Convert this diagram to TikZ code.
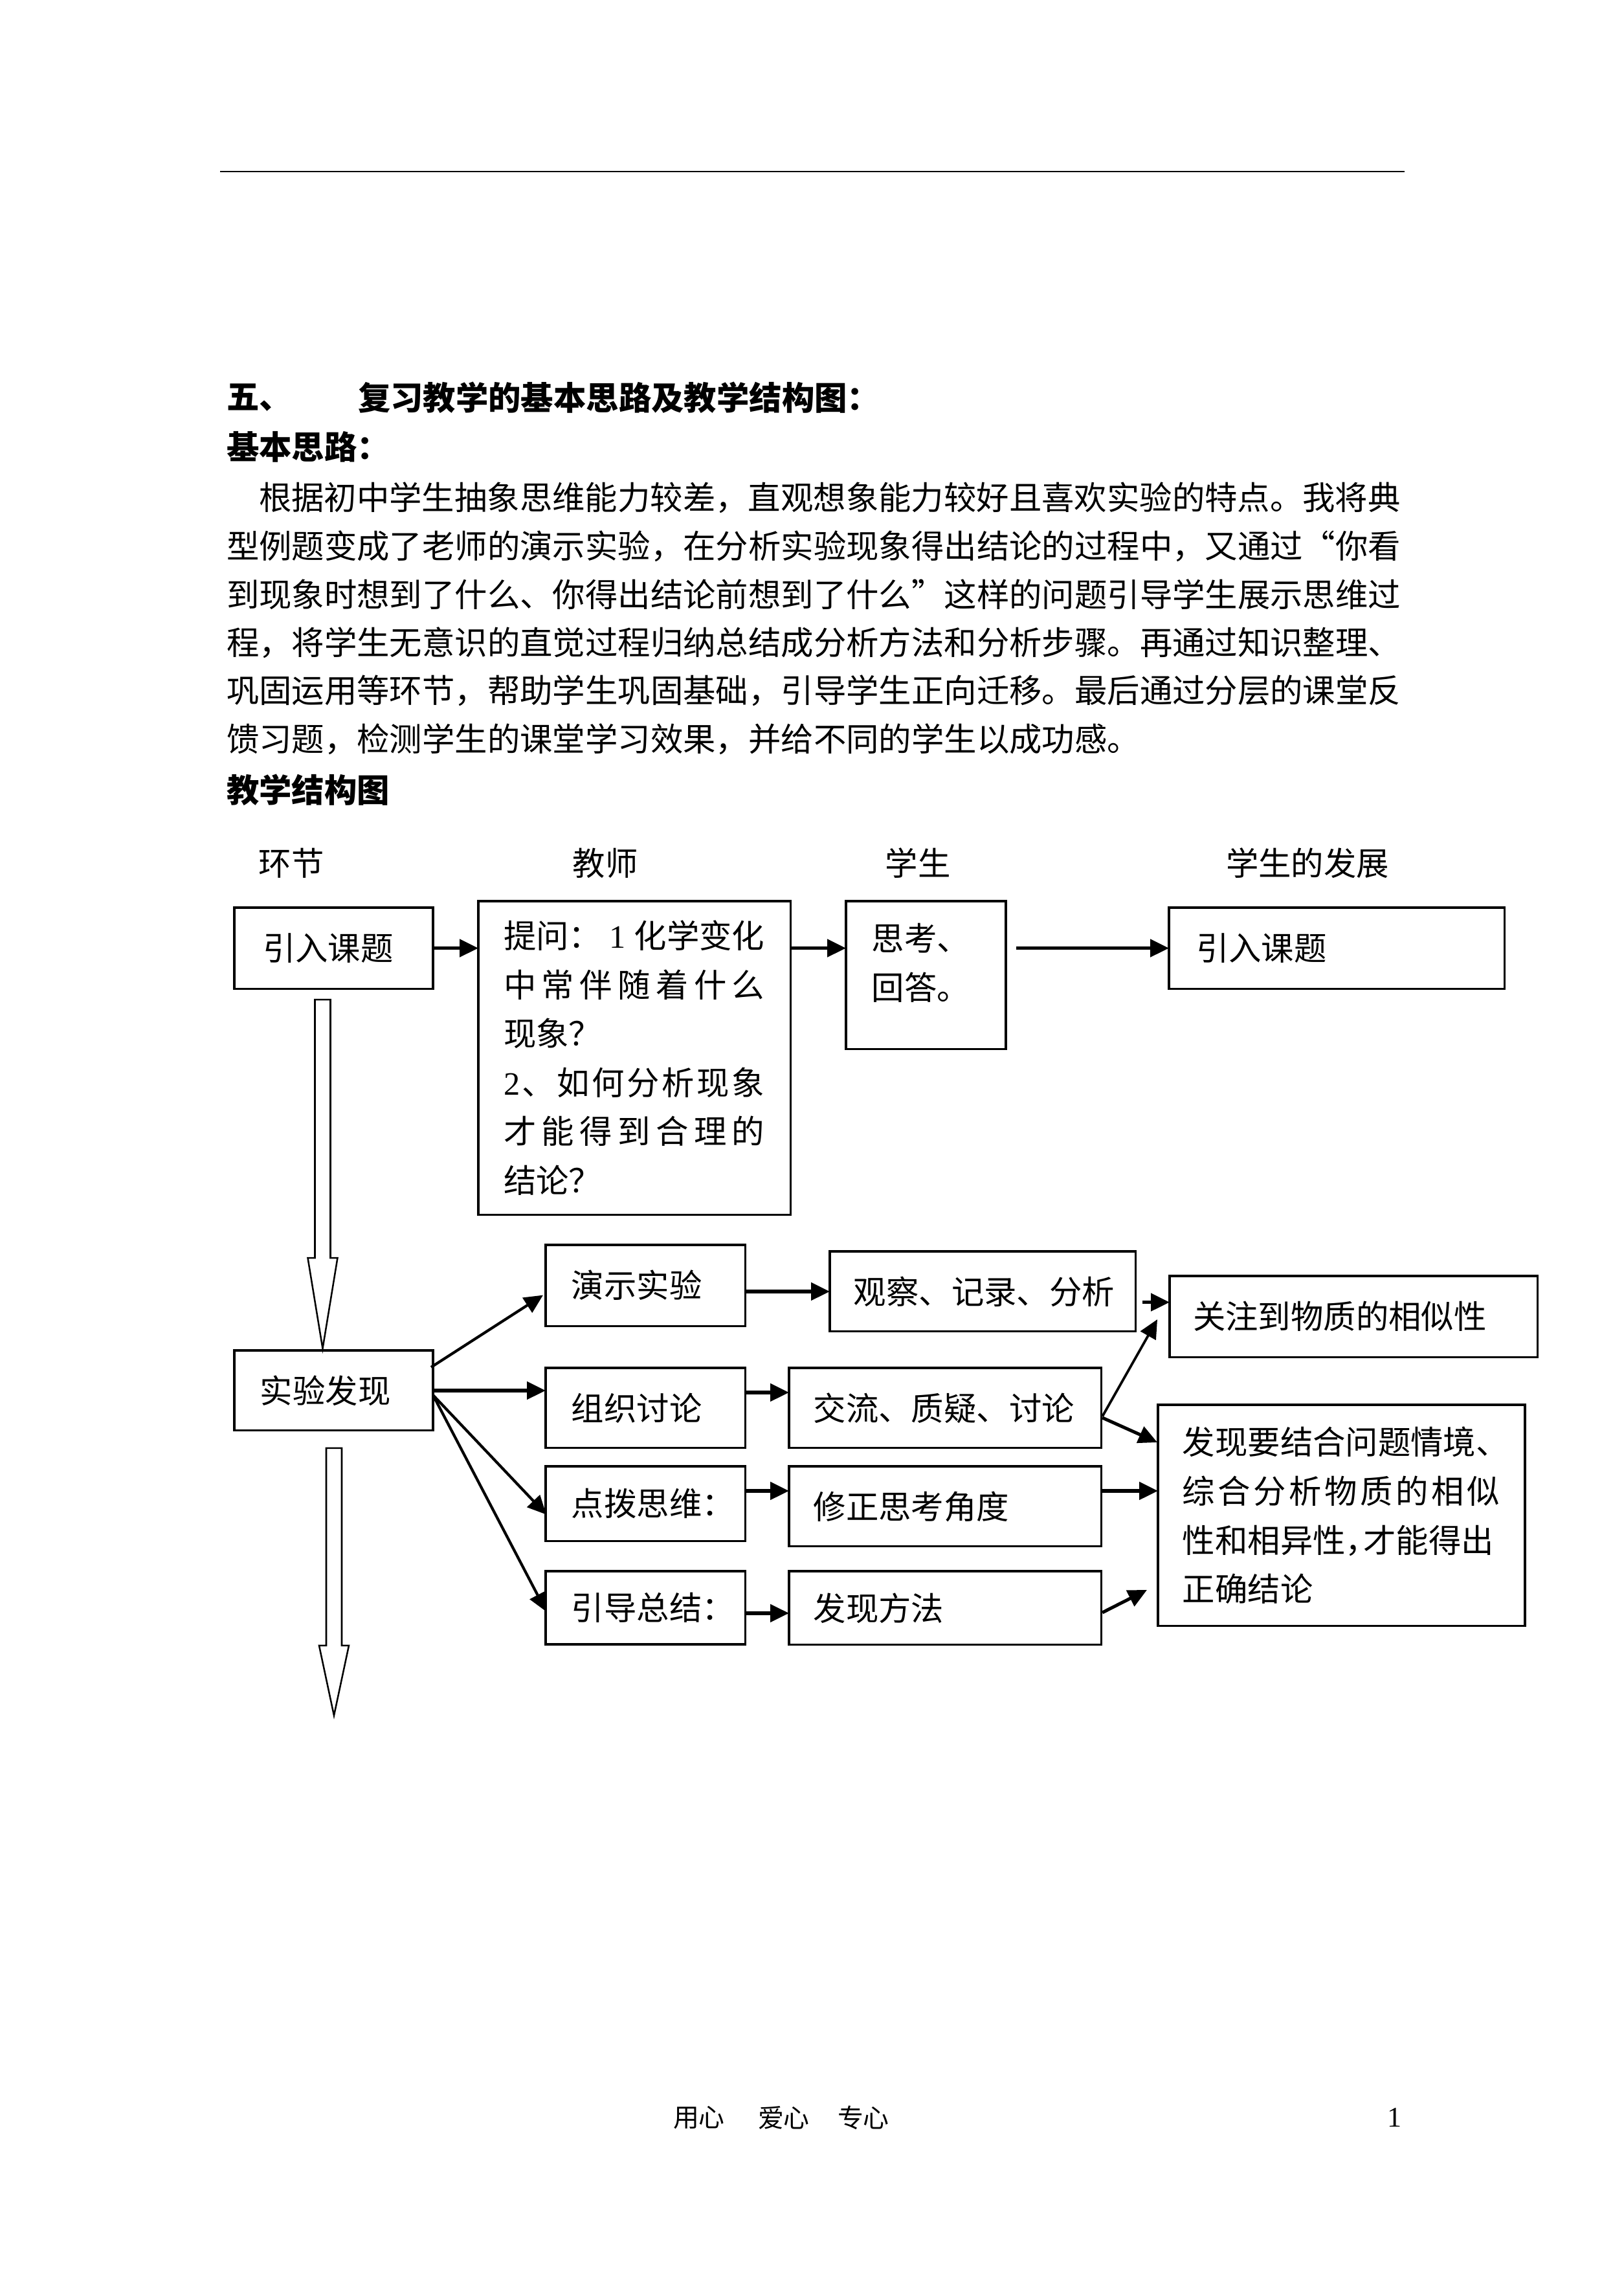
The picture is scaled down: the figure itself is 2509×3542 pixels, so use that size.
\documentclass[tikz,border=0pt]{standalone}
\usepackage{fontspec}
\setmainfont{Noto Sans CJK SC}
\newfontfamily\numfont{Liberation Serif}
\usetikzlibrary{arrows.meta,calc}
\newcommand\hollowarrow[5]{%
  \draw[hollow] ($(#1)+(-#3,0)$) -- ($(#1)+(#3,0)$) -- ($(#2)+(#3,-#5)$) -- ($(#2)+(#4,-#5)$) -- (#2) -- ($(#2)+(-#4,-#5)$) -- ($(#2)+(-#3,-#5)$) -- cycle;}
\begin{document}
\begin{tikzpicture}[x=0.083699mm, y=-0.083699mm,
  box/.style={draw, line width=0.75pt, rectangle, anchor=north west, align=left, inner ysep=1pt, outer sep=0pt, font=\fontsize{12pt}{18pt}\selectfont},
  lbl/.style={inner sep=0pt, outer sep=0pt, font=\fontsize{12pt}{18pt}\selectfont},
  harr/.style={line width=1.3pt, -{Triangle[length=6.9pt,width=6.4pt]}},
  darr/.style={line width=1pt, -{Triangle[length=6.9pt,width=6.4pt]}},
  hollow/.style={draw, line width=0.6pt, fill=white}]
\useasboundingbox (0,0) rectangle (2509,3542);
\fill[white] (0,0) rectangle (2509,3542);

% top rule
\draw[line width=0.7pt] (340,265) -- (2170,265);

% heading and paragraph
\node[lbl, anchor=west] (h_wu) at (350,614) {\bfseries 五、};
\node[lbl, anchor=west] (h_title) at (553,614) {\bfseries 复习教学的基本思路及教学结构图：};
\node[lbl, anchor=west] (h_basic) at (350,690) {\bfseries 基本思路：};
\node[lbl, anchor=west] (p1) at (400,769) {根据初中学生抽象思维能力较差，直观想象能力较好且喜欢实验的特点。我将典};
\node[lbl, anchor=west] (p2) at (350,843.5) {型例题变成了老师的演示实验，在分析实验现象得出结论的过程中，又通过“你看};
\node[lbl, anchor=west] (p3) at (350,918) {到现象时想到了什么、你得出结论前想到了什么”这样的问题引导学生展示思维过};
\node[lbl, anchor=west] (p4) at (350,992.5) {程，将学生无意识的直觉过程归纳总结成分析方法和分析步骤。再通过知识整理、};
\node[lbl, anchor=west] (p5) at (350,1067) {巩固运用等环节，帮助学生巩固基础，引导学生正向迁移。最后通过分层的课堂反};
\node[lbl, anchor=west] (p6) at (350,1141.5) {馈习题，检测学生的课堂学习效果，并给不同的学生以成功感。};
\node[lbl, anchor=west] (h_struct) at (350,1220) {\bfseries 教学结构图};

% column headers
\node[lbl] (c1) at (450,1333) {环节};
\node[lbl] (c2) at (935,1333) {教师};
\node[lbl] (c3) at (1418,1333) {学生};
\node[lbl] (c4) at (2020,1333) {学生的发展};

% row 1
\node[box, text width=52.1pt, inner xsep=10.5pt, minimum height=29.8pt] (B_intro) at (362,1402) {引入课题};
\node[box, text width=96.2pt, inner xsep=9.3pt, minimum height=115.3pt] (B_teacher) at (739,1392)
 {\makebox[96pt][s]{提问：\hfill{\numfont 1}\hfill 化学变化}\\
  \makebox[96pt][s]{中\hfill 常\hfill 伴\hfill 随\hfill 着\hfill 什\hfill 么}\\
  现象？\\
  \makebox[96pt][s]{{\numfont 2}\hfill 、\hfill 如\hfill 何\hfill 分\hfill 析\hfill 现\hfill 象}\\
  \makebox[96pt][s]{才\hfill 能\hfill 得\hfill 到\hfill 合\hfill 理\hfill 的}\\
  结论？};
\node[box, text width=39.8pt, inner xsep=9.5pt, minimum height=54.5pt] (B_think) at (1307,1392)
 {思考、\\ 回答。\rule[-10pt]{0pt}{1pt}};
\node[box, text width=103.4pt, inner xsep=10pt, minimum height=29.8pt] (B_dev) at (1806,1402) {引入课题};

% row 2
\node[box, text width=54.1pt, inner xsep=9.5pt, minimum height=29.5pt] (B_exp) at (362,2086) {实验发现};
\node[box, text width=54.4pt, inner xsep=9.5pt, minimum height=29.8pt] (B_demo) at (843,1923) {演示实验};
\node[box, text width=54.4pt, inner xsep=9.5pt, minimum height=29.5pt] (B_org) at (843,2113) {组织讨论};
\node[box, text width=54.4pt, inner xsep=9.5pt, minimum height=27.4pt] (B_hint) at (843,2265) {点拨思维：};
\node[box, text width=54.4pt, inner xsep=9.5pt, minimum height=26.9pt] (B_guide) at (843,2427) {引导总结：};
\node[box, text width=95pt, inner xsep=8.8pt, minimum height=29.5pt] (B_obs) at (1282,1933) {观察、记录、分析};
\node[box, text width=96.8pt, inner xsep=9pt, minimum height=29.5pt] (B_exch) at (1219,2113) {交流、质疑、讨论};
\node[box, text width=96.8pt, inner xsep=9pt, minimum height=29.5pt] (B_fix) at (1219,2265) {修正思考角度};
\node[box, text width=96.8pt, inner xsep=9pt, minimum height=27.1pt] (B_meth) at (1219,2427) {发现方法};
\node[box, text width=118.1pt, inner xsep=8.6pt, minimum height=29.8pt] (B_sim) at (1807,1971) {关注到物质的相似性};
\node[box, text width=117pt, inner xsep=9pt, minimum height=81.4pt] (B_conc) at (1789,2170)
 {发现要结合问题情境、\\
  \makebox[116.7pt][s]{综\hfill 合\hfill 分\hfill 析\hfill 物\hfill 质\hfill 的\hfill 相\hfill 似}\\
  性和相异性\makebox[0.55em][l]{，}才能得出\\
  正确结论};

% row 1 connectors
\draw[harr] (B_intro.east) -- (B_intro.east -| B_teacher.west);
\draw[harr] (B_teacher.east |- B_intro.east) -- (B_think.west |- B_intro.east);
\draw[harr, shorten <=3.8pt] (B_think.east |- B_dev.west) -- (B_dev.west);

% hollow block arrows
\coordinate (h1tip) at ($(B_exp.north)+(-17,-3)$);
\coordinate (h1a) at ($(B_intro.south)+(0,17)$);
\coordinate (h1top) at (h1tip |- h1a);
\hollowarrow{h1top}{h1tip}{12}{23}{140}
\coordinate (h2top) at ($(B_exp.south)+(0.5,27)$);
\coordinate (h2tip) at ($(h2top)+(0,413)$);
\hollowarrow{h2top}{h2tip}{12}{23}{108}

% from 实验发现
\draw[darr] ($(B_exp.east)+(-3,-36)$) -- ($(B_demo.west)+(-4,15)$);
\draw[harr] (B_exp.east) -- (B_exp.east -| B_org.west);
\draw[darr] ($(B_exp.east)+(0,7)$) -- ($(B_hint.west)+(1,17)$);
\draw[darr] ($(B_exp.east)+(0,7)$) -- ($(B_guide.west)+(1,6)$);

% column 2 -> column 3
\draw[harr] (B_demo.east |- B_obs.west) -- (B_obs.west);
\draw[harr] ($(B_org.east)+(0,-24)$) -- ($(B_exch.west)+(0,-24)$);
\coordinate (k1) at ($(B_fix.west)+(0,-24)$);
\draw[harr] (B_hint.east |- k1) -- (k1);
\coordinate (l1) at ($(B_meth.west)+(0,8)$);
\draw[harr] (B_guide.east |- l1) -- (l1);

% column 3 -> column 4
\coordinate (m1) at ($(B_sim.west)+(0,-22)$);
\draw[harr, shorten <=2.4pt] (B_obs.east |- m1) -- (m1);
\draw[darr, line width=0.9pt] ($(B_exch.east)+(2,13)$) -- ($(B_sim.west)+(-19,4.5)$);
\draw[darr, line width=1.2pt] ($(B_exch.east)+(2,15)$) -- ($(B_conc.north west)+(-1,58)$);
\coordinate (q1) at ($(B_fix.east)+(0,-24)$);
\draw[harr] (q1) -- (q1 -| B_conc.west);
\draw[darr, line width=1.2pt] ($(B_meth.east)+(2,7)$) -- ($(B_conc.west)+(-17,115)$);

% footer
\node[lbl, anchor=west, font=\fontsize{9.5pt}{11pt}\selectfont] (f1) at (1040,3271) {用心};
\node[lbl, anchor=west, font=\fontsize{9.5pt}{11pt}\selectfont] (f2) at (1171,3271) {爱心};
\node[lbl, anchor=west, font=\fontsize{9.5pt}{11pt}\selectfont] (f3) at (1294,3271) {专心};
\node[lbl, font=\numfont\fontsize{10.5pt}{12pt}\selectfont] (pg) at (2154,3271) {1};
\end{tikzpicture}
\end{document}
